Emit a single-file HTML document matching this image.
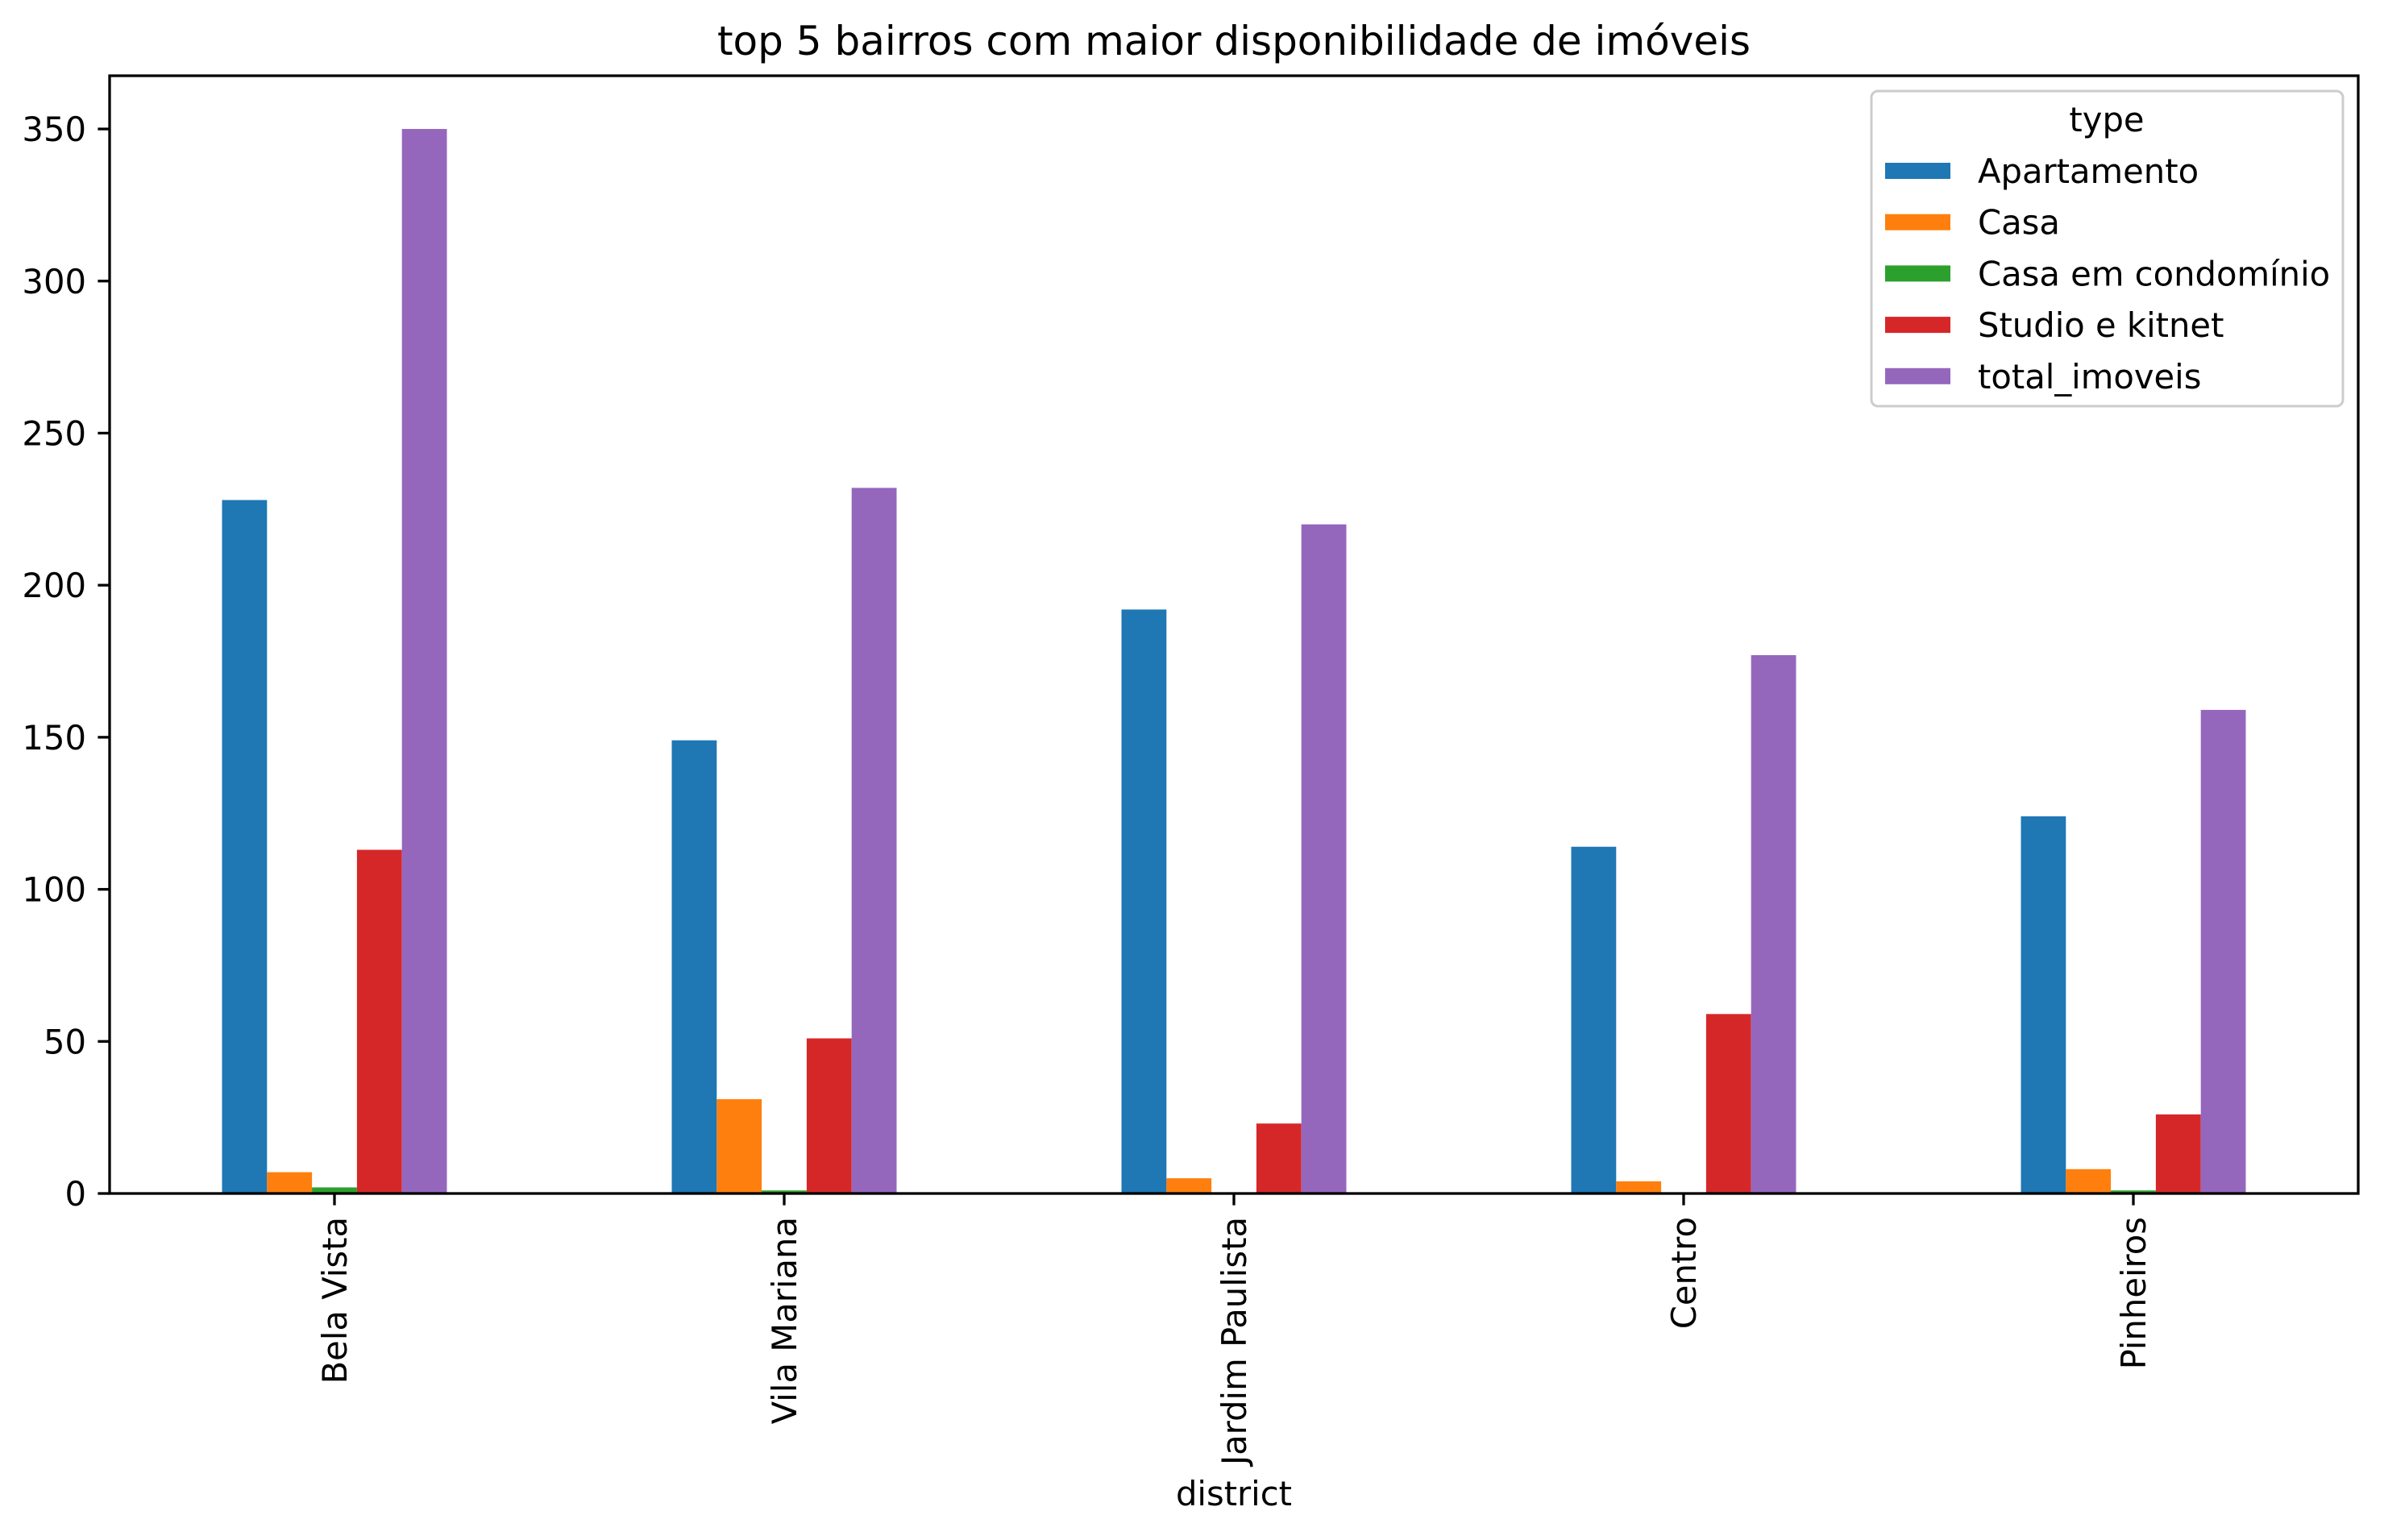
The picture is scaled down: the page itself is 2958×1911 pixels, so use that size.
<!DOCTYPE html>
<html><head><meta charset="utf-8"><style>
body{margin:0;background:#fff;}
svg text{font-family:"DejaVu Sans","Liberation Sans",sans-serif;fill:#000;}
</style></head><body>
<svg id="chart" width="2958" height="1906" xmlns="http://www.w3.org/2000/svg">
<rect width="2958" height="1906" fill="#fff"/>
<text x="1531" y="68" font-size="50" text-anchor="middle">top 5 bairros com maior disponibilidade de imóveis</text>
<g id="bars"></g>
<g id="axes"></g>
<text x="1531" y="1868" font-size="41.7" text-anchor="middle">district</text>
<g id="legend"></g>
</svg>
<script>
const categories = ["Bela Vista","Vila Mariana","Jardim Paulista","Centro","Pinheiros"];
const seriesNames = ["Apartamento","Casa","Casa em condomínio","Studio e kitnet","total_imoveis"];
const apartamento = [228,149,192,114,124];
const casa = [7,31,5,4,8];
const casaCondominio = [2,1,0,0,1];
const studio = [113,51,23,59,26];
const total = [350,232,220,177,159];
const yTicks = [0,50,100,150,200,250,300,350];

const series=[apartamento,casa,casaCondominio,studio,total];
const colors=["#1f77b4","#ff7f0e","#2ca02c","#d62728","#9467bd"];
const L=136,R=2926,T=94,B=1481,yMax=367.5;
const ns="http://www.w3.org/2000/svg";
const y=v=>B-v/yMax*(B-T);
const x=c=>L+(c+0.5)/categories.length*(R-L);
const bw=(R-L)/categories.length*0.1;
function mk(tag,attrs,parent){const e=document.createElementNS(ns,tag);for(const k in attrs)e.setAttribute(k,attrs[k]);parent.appendChild(e);return e;}
const gb=document.getElementById('bars');
series.forEach((s,si)=>{s.forEach((v,ci)=>{
 const cx=x(ci)+(si-2)*bw;
 const r=mk('rect',{x:cx-bw/2,y:y(v),width:bw,height:B-y(v),fill:colors[si]},gb);
 
 
});});
const ga=document.getElementById('axes');
const frame=mk('rect',{x:L,y:T,width:R-L,height:B-T,fill:'none',stroke:'#000','stroke-width':3.3},ga);


yTicks.forEach(t=>{
 mk('line',{x1:L-14.6,x2:L,y1:y(t),y2:y(t),stroke:'#000','stroke-width':3.3},ga);
 const tx=mk('text',{x:L-29,y:y(t)+15,'font-size':41.7,'text-anchor':'end'},ga);
 tx.textContent=t;
 
 
});
categories.forEach((c,i)=>{
 const cx=x(i);
 mk('line',{x1:cx,x2:cx,y1:B,y2:B+14.6,stroke:'#000','stroke-width':3.3},ga);
 const tx=mk('text',{x:0,y:0,'font-size':41.7,'text-anchor':'end',transform:`translate(${cx+15},${B+29}) rotate(-90)`},ga);
 tx.textContent=c;
 
 
});
const gl=document.getElementById('legend');
const lb=mk('rect',{x:2322,y:113,width:585,height:391,rx:8,fill:'#fff',stroke:'#ccc','stroke-width':3,'fill-opacity':0.8},gl);


const lt=mk('text',{x:2614,y:163,'font-size':41.7,'text-anchor':'middle'},gl);
lt.textContent='type';


seriesNames.forEach((n,i)=>{
 const yy=212+i*63.7;
 const p=mk('rect',{x:2339,y:yy-10,width:81,height:20,fill:colors[i]},gl);
 
 
 const t=mk('text',{x:2454,y:yy+15,'font-size':41.7},gl);
 t.textContent=n;
 
 
});
</script>
</body></html>
